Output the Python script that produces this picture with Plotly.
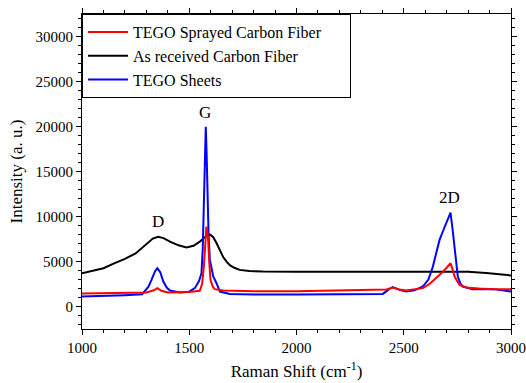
import plotly.graph_objects as go

# ---- data ----
black_x = [1000, 1050, 1100, 1150, 1200, 1250, 1300, 1330, 1355, 1380, 1410, 1450, 1487, 1520,
           1549, 1575, 1596, 1612, 1627, 1642, 1658, 1675, 1689, 1710, 1735, 1780, 1844, 2000,
           2200, 2400, 2600, 2700, 2800, 2884, 2950, 3000]
black_y = [3700, 3950, 4250, 4800, 5300, 5900, 7000, 7550, 7750, 7600, 7200, 6800, 6550, 6750,
           7200, 7750, 8000, 7700, 7050, 6200, 5500, 4950, 4600, 4300, 4070, 3950, 3880, 3850,
           3850, 3880, 3880, 3900, 3850, 3720, 3600, 3450]

blue_x = [1000, 1100, 1200, 1280, 1310, 1324, 1340, 1351, 1365, 1379, 1395, 1410, 1456, 1500,
          1526, 1545, 1557, 1563, 1568, 1573, 1577, 1581, 1585, 1590, 1596, 1605, 1612, 1627,
          1643, 1689, 1800, 2000, 2200, 2403, 2430, 2449, 2480, 2511, 2550, 2589, 2615, 2636,
          2652, 2667, 2685, 2698, 2710, 2718, 2728, 2737, 2745, 2752, 2765, 2775, 2822, 2915,
          2960, 3000]
blue_y = [1100, 1150, 1250, 1350, 2200, 2960, 3900, 4250, 3800, 2780, 2100, 1780, 1560, 1650,
          2040, 2800, 3700, 6500, 11800, 17000, 19960, 17000, 11800, 8000, 5180, 3900, 3330, 2590,
          1660, 1400, 1330, 1330, 1350, 1400, 1900, 2150, 1850, 1660, 1800, 2220, 3000, 4440,
          6000, 7400, 8500, 9240, 10100, 10420, 8500, 6290, 4700, 3330, 2500, 2220, 1930, 1930,
          1800, 1660]

red_x = [1000, 1100, 1200, 1300, 1335, 1351, 1370, 1400, 1500, 1549, 1560, 1568, 1575, 1580,
         1585, 1588, 1593, 1599, 1610, 1619, 1658, 1800, 2000, 2200, 2325, 2420, 2449, 2480,
         2511, 2589, 2620, 2651, 2680, 2698, 2718, 2728, 2737, 2760, 2791, 2850, 2915, 3000]
red_y = [1450, 1500, 1500, 1560, 1800, 2040, 1750, 1550, 1600, 1740, 2500, 4440, 7000, 8870,
         8200, 7400, 5000, 2960, 2200, 1930, 1780, 1700, 1700, 1780, 1850, 1900, 2110, 1900,
         1780, 2040, 2500, 3140, 3800, 4250, 4810, 4100, 3330, 2400, 2110, 2000, 1930, 1930]

series_names = ["TEGO Sprayed Carbon Fiber", "As received Carbon Fiber", "TEGO Sheets"]

peak_labels = ["D", "G", "2D"]
peak_x = [1355, 1575, 2715]
peak_y = [9400, 21600, 12100]

x_range = [1000, 3000]
y_range = [-2500, 32500]
x_ticks = [1000, 1500, 2000, 2500, 3000]
x_ticktext = ["1000", "1500", "2000", "2500", "3000"]
y_ticks = [0, 5000, 10000, 15000, 20000, 25000, 30000]
y_ticktext = ["0", "5000", "10000", "15000", "20000", "25000", "30000"]

FONT = "Liberation Serif"
PAD = "\u00a0" * 6  # trailing blank room inside the legend box, as in the reference

fig = go.Figure()
fig.add_trace(go.Scatter(x=black_x, y=black_y, mode="lines", name=series_names[1],
                         line=dict(color="black", width=2), legendrank=2))
fig.add_trace(go.Scatter(x=blue_x, y=blue_y, mode="lines", name=series_names[2],
                         line=dict(color="#0000ff", width=2), legendrank=3))
fig.add_trace(go.Scatter(x=red_x, y=red_y, mode="lines", name=series_names[0] + PAD,
                         line=dict(color="#ff0000", width=2), legendrank=1))

for t, px, py in zip(peak_labels, peak_x, peak_y):
    fig.add_annotation(x=px, y=py, text=t, showarrow=False,
                       font=dict(family=FONT, size=17, color="black"))

fig.update_xaxes(range=x_range, tickmode="array", tickvals=x_ticks, ticktext=x_ticktext,
                 automargin=False,
                 showline=True, linecolor="black", linewidth=1, mirror="allticks",
                 ticks="outside", ticklen=5, tickcolor="black", tickwidth=1,
                 showgrid=False, zeroline=False,
                 tickfont=dict(family=FONT, size=15, color="black"),
                 title=dict(text="Raman Shift (cm<sup>-1</sup>)",
                            font=dict(family=FONT, size=17, color="black"), standoff=10),
                 minor=dict(dtick=100, tick0=1000, ticks="outside", ticklen=3, tickcolor="black"))
fig.update_yaxes(range=y_range, tickmode="array", tickvals=y_ticks, ticktext=y_ticktext,
                 automargin=False,
                 showline=True, linecolor="black", linewidth=1, mirror="allticks",
                 ticks="outside", ticklen=5, tickcolor="black", tickwidth=1,
                 showgrid=False, zeroline=False,
                 tickfont=dict(family=FONT, size=15, color="black"),
                 title=dict(text="Intensity (a. u.)",
                            font=dict(family=FONT, size=17, color="black"), standoff=8),
                 minor=dict(dtick=1000, tick0=0, ticks="outside", ticklen=3, tickcolor="black"))

fig.update_layout(
    width=526, height=383,
    margin=dict(l=82, r=15, t=14, b=54, autoexpand=False),
    paper_bgcolor="white", plot_bgcolor="white",
    font=dict(family=FONT, color="black", size=15),
    showlegend=True,
    legend=dict(x=0, y=1, xanchor="left", yanchor="top",
                bordercolor="black", borderwidth=1, bgcolor="white",
                font=dict(family=FONT, size=16, color="black"),
                tracegroupgap=0, itemwidth=40),
)

fig.write_html("out.html", config={"displayModeBar": False},
               post_script="document.body.style.margin='0';document.body.style.overflow='hidden';")
